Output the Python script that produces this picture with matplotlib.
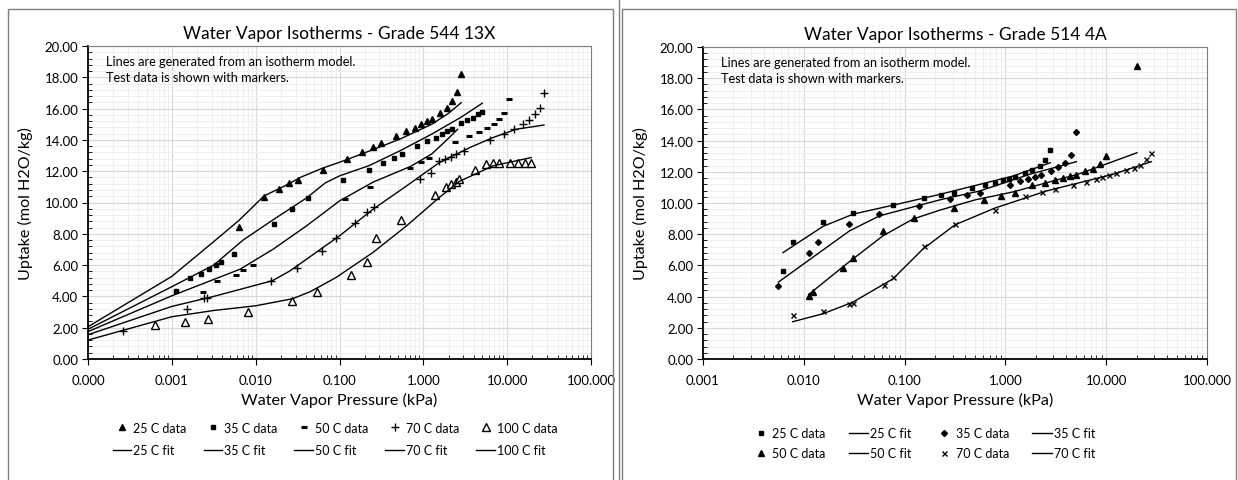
import matplotlib
matplotlib.use("Agg")
import matplotlib.pyplot as plt
from matplotlib.lines import Line2D
from matplotlib.patches import Rectangle
from matplotlib.ticker import FixedLocator, MultipleLocator, FuncFormatter, NullFormatter

plt.rcParams['font.family'] = ['Lato', 'DejaVu Sans']

# ---------------- Grade 544 13X (left chart) ----------------
x13_25_data = [0.0063, 0.0126, 0.0189, 0.0251, 0.0316, 0.0628, 0.1245, 0.188, 0.251, 0.316, 0.477,
               0.628, 0.787, 0.946, 1.116, 1.28, 1.58, 1.91, 2.21, 2.51, 2.83]
y13_25_data = [8.44, 10.38, 10.89, 11.23, 11.44, 12.08, 12.76, 13.22, 13.55, 13.8, 14.25,
               14.57, 14.79, 15.04, 15.21, 15.36, 15.74, 16.06, 16.48, 17.06, 18.19]
x13_35_data = [0.00112, 0.00166, 0.00223, 0.00278, 0.00334, 0.0039, 0.0055, 0.0167, 0.0275, 0.0416,
               0.110, 0.222, 0.331, 0.443, 0.557, 0.832, 1.116, 1.40, 1.68, 1.93, 2.19, 2.78, 3.30,
               3.86, 4.43, 5.04]
y13_35_data = [4.34, 5.15, 5.45, 5.74, 6.02, 6.23, 6.74, 8.62, 9.6, 10.26,
               11.42, 12.1, 12.55, 12.85, 13.11, 13.58, 13.92, 14.15, 14.36, 14.55, 14.68, 15.1, 15.27,
               15.42, 15.63, 15.78]
x13_50_data = [0.00234, 0.00346, 0.00582, 0.00706, 0.0093, 0.1156, 0.234, 0.70, 0.93, 1.17, 2.36,
               3.49, 4.59, 5.78, 7.0, 8.09, 9.29, 10.4]
y13_50_data = [4.25, 4.96, 5.38, 5.66, 6.03, 10.21, 11.02, 12.22, 12.57, 12.83, 13.88,
               14.23, 14.53, 14.74, 15.04, 15.32, 15.74, 16.59]
x13_70_data = [0.000265, 0.00153, 0.00243, 0.00264, 0.01535, 0.0308, 0.0621, 0.092, 0.155, 0.215,
               0.258, 0.92, 1.22, 1.52, 1.83, 2.12, 2.45, 3.04, 6.17, 9.12, 12.2, 15.3, 18.4, 21.5,
               24.7, 27.8]
y13_70_data = [1.77, 3.17, 3.87, 3.87, 4.96, 5.8, 6.91, 7.7, 8.72, 9.4,
               9.74, 11.49, 11.88, 12.64, 12.8, 12.92, 13.07, 13.27, 13.98, 14.4, 14.68, 15.0, 15.25, 15.63,
               16.06, 17.02]
x13_100_data = [0.000628, 0.00145, 0.0027, 0.0081, 0.0273, 0.054, 0.1365, 0.215, 0.270, 0.547, 1.36,
                1.88, 2.15, 2.42, 2.70, 4.08, 5.52, 6.75, 8.1, 10.9, 13.4, 16.1, 19.3]
y13_100_data = [2.17, 2.34, 2.53, 2.98, 3.68, 4.3, 5.38, 6.19, 7.74, 8.89, 10.47,
                11.02, 11.17, 11.32, 11.49, 12.1, 12.49, 12.55, 12.55, 12.55, 12.55, 12.55, 12.55]

x13_25_fit = [0.0001, 0.001, 0.00316, 0.0063, 0.0126, 0.0251, 0.0339, 0.0631, 0.120, 0.251, 0.525,
              1.26, 2.0, 2.83]
y13_25_fit = [2.06, 5.28, 7.5, 8.85, 10.42, 11.2, 11.6, 12.2, 12.72, 13.38, 14.05,
              15.0, 15.7, 16.38]
x13_35_fit = [0.0001, 0.001, 0.00316, 0.00708, 0.0162, 0.0407, 0.0676, 0.1, 0.224, 0.525, 1.29, 2.82, 5.04]
y13_35_fit = [1.9, 4.62, 6.0, 7.6, 8.9, 10.3, 11.25, 11.7, 12.35, 13.3, 14.4, 15.45, 16.34]
x13_50_fit = [0.0001, 0.001, 0.00653, 0.0162, 0.0405, 0.1, 0.251, 0.70, 1.26, 1.78, 2.57]
y13_50_fit = [1.75, 4.04, 5.74, 7.02, 8.51, 10.1, 11.3, 12.3, 13.1, 13.85, 14.68]
x13_70_fit = [0.0001, 0.001, 0.00316, 0.0158, 0.0251, 0.0405, 0.1, 0.251, 0.631, 1.55, 3.55, 6.76, 12.8, 27.5]
y13_70_fit = [1.55, 3.36, 4.0, 5.0, 5.6, 6.38, 7.87, 9.57, 11.06, 12.55, 13.5, 14.15, 14.68, 14.95]
x13_100_fit = [0.0001, 0.001, 0.00316, 0.01, 0.0275, 0.0447, 0.0912, 0.251, 0.631, 1.55, 2.69, 6.76, 19.3]
y13_100_fit = [1.21, 2.70, 3.1, 3.4, 3.85, 4.3, 5.21, 6.81, 8.51, 10.32, 11.35, 12.34, 12.87]

# ---------------- Grade 514 4A (right chart) ----------------
x4a_25_data = [0.00622, 0.00776, 0.0155, 0.031, 0.0774, 0.155, 0.232, 0.307, 0.467, 0.624, 0.784,
               0.946, 1.086, 1.236, 1.553, 1.852, 2.19, 2.49, 2.79]
y4a_25_data = [5.65, 7.48, 8.79, 9.37, 9.9, 10.29, 10.5, 10.67, 10.96, 11.14, 11.31,
               11.47, 11.56, 11.69, 11.9, 12.11, 12.37, 12.73, 13.41]
x4a_35_data = [0.0056, 0.0112, 0.01397, 0.0279, 0.0563, 0.139, 0.28, 0.42, 0.556, 1.12, 1.39, 1.68,
               1.95, 2.25, 2.86, 3.36, 3.9, 4.44, 5.06]
y4a_35_data = [4.65, 6.82, 7.48, 8.67, 9.27, 9.82, 10.24, 10.5, 10.67, 11.16, 11.41, 11.56,
               11.69, 11.8, 12.03, 12.28, 12.54, 13.07, 14.56]
x4a_50_data = [0.0112, 0.01244, 0.0245, 0.0308, 0.0617, 0.123, 0.307, 0.614, 0.913, 1.236, 1.84,
               2.45, 3.09, 3.73, 4.35, 4.98, 6.12, 7.4, 8.62, 9.89, 20.2]
y4a_50_data = [4.07, 4.29, 5.84, 6.5, 8.18, 9.01, 9.71, 10.18, 10.45, 10.67, 11.14,
               11.31, 11.47, 11.6, 11.73, 11.82, 12.03, 12.2, 12.5, 12.99, 18.81]
x4a_70_data = [0.00776, 0.0155, 0.0279, 0.0308, 0.0621, 0.0774, 0.1556, 0.316, 0.79, 1.55, 2.33,
               3.09, 4.69, 6.27, 7.87, 9.17, 10.7, 12.4, 15.6, 18.7, 21.8, 24.6, 28.0]
y4a_70_data = [2.8, 3.08, 3.54, 3.62, 4.73, 5.28, 7.24, 8.65, 9.56, 10.45, 10.71,
               10.88, 11.16, 11.37, 11.52, 11.67, 11.77, 11.95, 12.11, 12.27, 12.46, 12.8, 13.18]

x4a_25_fit = [0.00622, 0.0155, 0.031, 0.0767, 0.223, 1.19, 2.79]
y4a_25_fit = [6.82, 8.5, 9.29, 9.86, 10.55, 11.73, 12.58]
x4a_35_fit = [0.0056, 0.0285, 0.0566, 0.223, 0.556, 1.74, 5.06]
y4a_35_fit = [4.93, 8.22, 9.18, 10.2, 10.77, 11.84, 12.65]
x4a_50_fit = [0.0112, 0.0265, 0.0611, 0.121, 0.223, 0.501, 1.19, 5.46, 20.2]
y4a_50_fit = [4.14, 6.09, 7.9, 8.97, 9.54, 10.2, 10.71, 11.88, 13.22]
x4a_70_fit = [0.00776, 0.0155, 0.0308, 0.0767, 0.152, 0.223, 0.316, 0.783, 2.55, 11.7, 28.1]
y4a_70_fit = [2.39, 2.9, 3.65, 5.14, 7.05, 7.86, 8.6, 9.67, 10.77, 11.84, 12.65]

decades_13x = [0.0001, 0.001, 0.01, 0.1, 1, 10, 100]
decades_4a = [0.001, 0.01, 0.1, 1, 10, 100]

W, H = 1238, 481
fig = plt.figure(figsize=(W / 100, H / 100), dpi=100)


def px_axes(x0, y0, x1, y1):
    return fig.add_axes([x0 / W, 1 - y1 / H, (x1 - x0) / W, (y1 - y0) / H])


def style_axes(ax, decades, title):
    ax.set_xscale('log')
    ax.set_xlim(decades[0], decades[-1])
    ax.set_ylim(0, 20)
    minors = [d * k for d in decades[:-1] for k in range(2, 10)]
    ax.xaxis.set_major_locator(FixedLocator(decades))
    ax.xaxis.set_minor_locator(FixedLocator(minors))
    ax.xaxis.set_major_formatter(FuncFormatter(lambda v, p: f'{v:.3f}'))
    ax.xaxis.set_minor_formatter(NullFormatter())
    ax.yaxis.set_major_locator(MultipleLocator(2))
    ax.yaxis.set_minor_locator(MultipleLocator(0.4))
    ax.yaxis.set_major_formatter(FuncFormatter(lambda v, p: f'{v:.2f}'))
    ax.grid(which='major', color='#d9d9d9', lw=0.9)
    ax.grid(which='minor', color='#efefef', lw=0.7)
    ax.set_axisbelow(True)
    for s in ('top', 'right'):
        ax.spines[s].set_color('#7f7f7f')
        ax.spines[s].set_linewidth(0.8)
    for s in ('left', 'bottom'):
        ax.spines[s].set_color('black')
        ax.spines[s].set_linewidth(1.3)
    ax.tick_params(which='major', direction='out', length=4, width=0.8, labelsize=9.5,
                   colors='black', pad=3)
    ax.tick_params(which='minor', direction='in', length=3, width=0.6)
    ax.tick_params(axis='x', pad=7)
    ax.set_title(title, fontsize=12.5, pad=6)
    ax.set_xlabel('Water Vapor Pressure (kPa)', fontsize=11.6, labelpad=4)
    ax.set_ylabel('Uptake (mol H2O/kg)', fontsize=11.6, labelpad=8)
    ax.text(0.035, 0.972, 'Lines are generated from an isotherm model.\nTest data is shown with markers.',
            transform=ax.transAxes, fontsize=9.2, va='top', ha='left', linespacing=1.45)


# chart frames
fig.patches.append(Rectangle((8 / W, -0.1), 605 / W, 1.1 - 10 / H, transform=fig.transFigure,
                             fill=False, ec='#7f7f7f', lw=1.0))
fig.patches.append(Rectangle((622 / W, -0.1), 614 / W, 1.1 - 10 / H, transform=fig.transFigure,
                             fill=False, ec='#7f7f7f', lw=1.0))
fig.add_artist(Line2D([619 / W, 619 / W], [0, 1], transform=fig.transFigure, color='#7f7f7f', lw=1.0))

legend_kw = dict(loc='center', frameon=False, fontsize=9, handletextpad=0.15, borderaxespad=0,
                 borderpad=0)

# ---- left chart
ax1 = px_axes(88, 47, 591, 360)
style_axes(ax1, decades_13x, 'Water Vapor Isotherms - Grade 544 13X')
h = []
h.append(ax1.plot(x13_25_data, y13_25_data, ls='none', marker='^', ms=4, color='black')[0])
h.append(ax1.plot(x13_25_fit, y13_25_fit, color='black', lw=1.0)[0])
h.append(ax1.plot(x13_35_data, y13_35_data, ls='none', marker='s', ms=3.2, color='black')[0])
h.append(ax1.plot(x13_35_fit, y13_35_fit, color='black', lw=1.0)[0])
h.append(ax1.plot(x13_50_data, y13_50_data, ls='none', marker='_', ms=5, mew=2.2, color='black')[0])
h.append(ax1.plot(x13_50_fit, y13_50_fit, color='black', lw=1.0)[0])
h.append(ax1.plot(x13_70_data, y13_70_data, ls='none', marker='+', ms=6, mew=1.0, color='black')[0])
h.append(ax1.plot(x13_70_fit, y13_70_fit, color='black', lw=1.0)[0])
h.append(ax1.plot(x13_100_data, y13_100_data, ls='none', marker='^', ms=5.5, mfc='white', mec='black',
                  mew=1.0)[0])
h.append(ax1.plot(x13_100_fit, y13_100_fit, color='black', lw=1.0)[0])
labels = ['25 C data', '25 C fit', '35 C data', '35 C fit', '50 C data', '50 C fit',
          '70 C data', '70 C fit', '100 C data', '100 C fit']
fig.legend(h, labels, ncol=5, bbox_to_anchor=(335 / W, 1 - 440 / H), handlelength=1.5,
           columnspacing=1.35, labelspacing=0.85, **legend_kw)

# ---- right chart
ax2 = px_axes(703, 48, 1207, 360)
style_axes(ax2, decades_4a, 'Water Vapor Isotherms - Grade 514 4A')
d25 = ax2.plot(x4a_25_data, y4a_25_data, ls='none', marker='s', ms=3.2, color='black')[0]
f25 = ax2.plot(x4a_25_fit, y4a_25_fit, color='black', lw=1.0)[0]
d35 = ax2.plot(x4a_35_data, y4a_35_data, ls='none', marker='D', ms=3.0, color='black')[0]
f35 = ax2.plot(x4a_35_fit, y4a_35_fit, color='black', lw=1.0)[0]
d50 = ax2.plot(x4a_50_data, y4a_50_data, ls='none', marker='^', ms=4, color='black')[0]
f50 = ax2.plot(x4a_50_fit, y4a_50_fit, color='black', lw=1.0)[0]
d70 = ax2.plot(x4a_70_data, y4a_70_data, ls='none', marker='x', ms=3.6, mew=1.0, color='black')[0]
f70 = ax2.plot(x4a_70_fit, y4a_70_fit, color='black', lw=1.0)[0]
fig.legend([d25, d50, f25, f50, d35, d70, f35, f70],
           ['25 C data', '50 C data', '25 C fit', '50 C fit', '35 C data', '70 C data', '35 C fit', '70 C fit'],
           ncol=4, bbox_to_anchor=(923 / W, 1 - 444 / H), handlelength=1.55,
           columnspacing=1.85, labelspacing=0.62, **legend_kw)

fig.savefig('out.png', dpi=100)
